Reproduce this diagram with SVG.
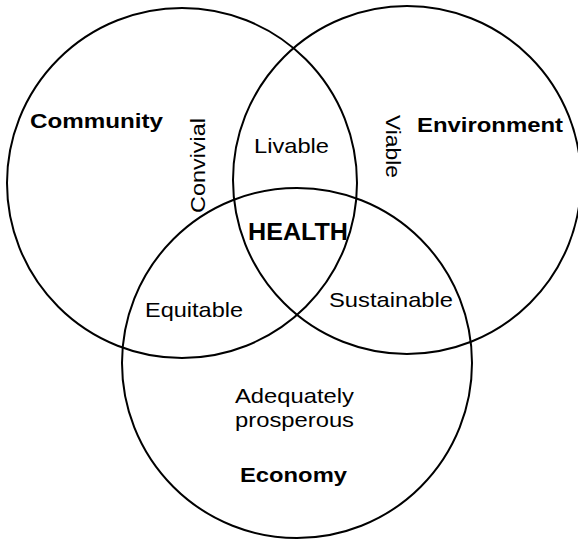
<svg xmlns="http://www.w3.org/2000/svg" width="578" height="539" viewBox="0 0 578 539">
<style>
.c{fill:none;stroke:#000;stroke-width:2}
.t{font-family:"Liberation Sans",Arial,sans-serif;font-size:21px;fill:#000}
.b{font-weight:bold}
</style>
<rect width="578" height="539" fill="#fff"/>
<g id="community">
<circle class="c" cx="182" cy="183" r="175"/>
<text class="t b" x="30" y="128" textLength="133" lengthAdjust="spacingAndGlyphs">Community</text>
</g>
<g id="environment">
<circle class="c" cx="407" cy="180" r="174"/>
<text class="t b" x="417" y="132" textLength="146" lengthAdjust="spacingAndGlyphs">Environment</text>
</g>
<g id="economy">
<circle class="c" cx="297" cy="363" r="175"/>
<text class="t b" x="240" y="482" textLength="107" lengthAdjust="spacingAndGlyphs">Economy</text>
<text class="t" x="235" y="403" textLength="119" lengthAdjust="spacingAndGlyphs">Adequately</text>
<text class="t" x="235" y="427" textLength="119" lengthAdjust="spacingAndGlyphs">prosperous</text>
</g>
<g id="overlaps">
<text class="t" transform="translate(205,213) rotate(-90)" textLength="95" lengthAdjust="spacingAndGlyphs">Convivial</text>
<text class="t" transform="translate(386,115) rotate(90)" textLength="63" lengthAdjust="spacingAndGlyphs">Viable</text>
<text class="t" x="254" y="153" textLength="75" lengthAdjust="spacingAndGlyphs">Livable</text>
<text class="t" x="145" y="317" textLength="98" lengthAdjust="spacingAndGlyphs">Equitable</text>
<text class="t" x="329" y="307" textLength="124" lengthAdjust="spacingAndGlyphs">Sustainable</text>
<text class="t b" x="248" y="240" style="font-size:24px" textLength="100" lengthAdjust="spacingAndGlyphs">HEALTH</text>
</g>
</svg>
